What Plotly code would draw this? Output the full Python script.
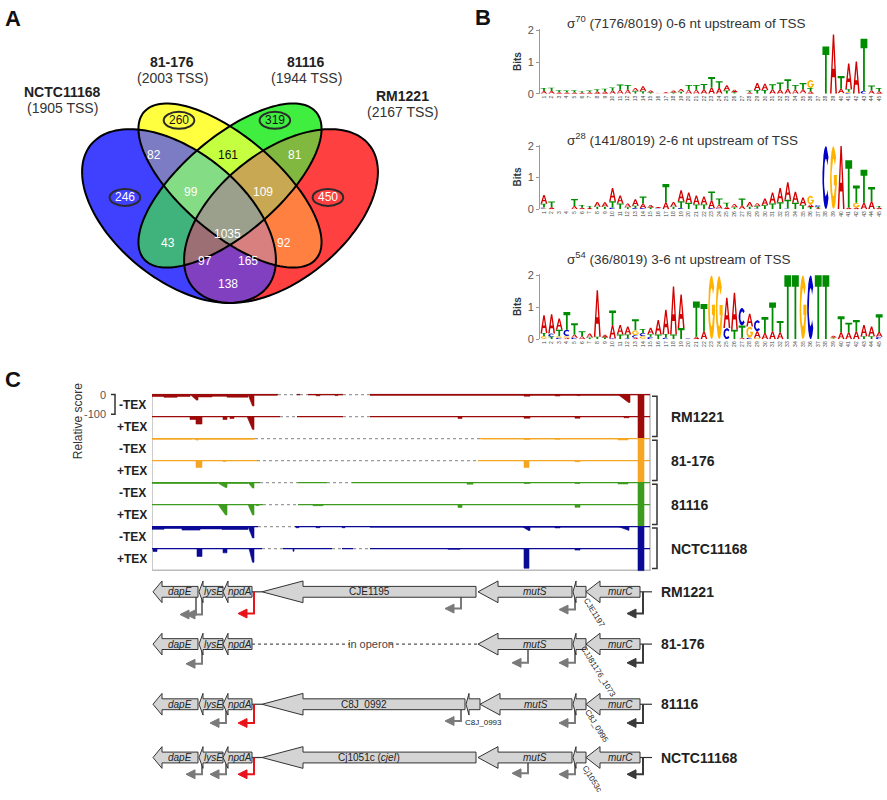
import numpy as np
import plotly.graph_objects as go

W, H = 887, 800

# ---------------- A: Venn diagram of TSS shared between the strains ----------------
strains = ['NCTC11168', '81-176', '81116', 'RM1221']
strain_tss = [1905, 2003, 1944, 2167]
# N = NCTC11168, Y = 81-176, G = 81116, R = RM1221
region_sets = ['N', 'Y', 'G', 'R', 'NY', 'YG', 'GR', 'NYG', 'YGR', 'NYGR', 'NG', 'YR', 'NGR', 'NYR', 'NR']
region_counts = [246, 260, 319, 450, 82, 161, 81, 99, 109, 1035, 43, 92, 97, 165, 138]

# ---------------- B: promoter motifs (bits per position) ----------------
logo_titles = ['σ<sup>70</sup> (7176/8019) 0-6 nt upstream of TSS',
               'σ<sup>28</sup> (141/8019) 2-6 nt upstream of TSS',
               'σ<sup>54</sup> (36/8019) 3-6 nt upstream of TSS']
positions = list(range(1, 46))

sig70_A = [.09, .09, .05, .05, .05, .04, .05, .07, .08, .10, .13, .13, .10, .16, .06, .02, .03, .06, .09, .13,
           .13, .14, .20, .18, .17, .08, .01, .05, .22, .20, .14, .14, .16, .13, .12, .08, .01, 0, 1.88, .14,
           .82, 1.02, 0, .10, .08]
sig70_C = [0] * 40 + [.03, 0, .09, 0, 0]
sig70_G = [0] * 34 + [.02, .26, 0, 0, 0, .02, .03, 0, 0, 0, 0]
sig70_T = [.09, .10, .06, .05, .06, .04, .05, .07, .08, .10, .16, .15, .08, .08, .04, .01, .02, .04, .06, .15,
           .15, .17, .33, .22, .10, .05, .01, .05, .12, .12, .16, .22, .30, .15, .20, .10, .01, 1.50, 0, .40,
           .08, 0, 1.65, .16, .10]

sig28_A = [.28, .06, .02, .015, .10, .05, .04, .15, .14, .42, .25, .12, .20, .15, .08, .03, .22, .15, .35, .33,
           .28, .25, .25, .12, .08, .10, .12, .15, .10, .22, .35, .45, .55, .35, .25, .08, .03, 0, 0, 2.0,
           .05, .05, .20, .25, .05]
sig28_C = [.03, 0, 0, 0, 0, 0, 0, 0, 0, .05, 0, 0, .03, .03, 0, .02, 0, 0, .03, 0,
           0, 0, .03, .02, 0, 0, 0, 0, .02, 0, 0, 0, .02, 0, 0, 0, .06, 2.0, 0, 0,
           0, 0, 0, 0, 0]
sig28_G = [.02] + [0] * 34 + [.28, 0, 0, 2.0, 0, 0, .15, 0, 0, 0]
sig28_T = [.12, .18, .02, .015, .22, .08, .06, .08, .08, .20, .18, .06, .08, .22, .05, .02, .58, .08, .22, .20,
           .15, .15, .28, .20, .12, .06, .22, .08, .07, .12, .18, .22, .28, .20, .12, .07, .04, 0, 0, 0,
           1.50, .55, 1.05, .45, .05]

sig54_A = [.55, .60, .35, .05, .10, .10, .12, 1.45, .08, .42, .30, .25, .05, .02, .20, .45, .75, 1.50, 1.05, .02,
           .08, .25, 0, 0, .95, 1.15, .05, .40, .20, .20, .25, .22, 0, 0, 0, 0, 0, 0, .05, .22,
           .22, .25, .35, .30, .15]
sig54_C = [.02, .10, .05, .20, .05, 0, 0, 0, 0, .03, 0, .03, .08, .10, .08, 0, .05, 0, 0, .02,
           0, 0, 0, 0, .35, 0, .55, .05, .35, 0, 0, 0, 0, 0, 0, 2.0, 0, 0, 0, 0,
           0, 0, 0, 0, .08]
sig54_G = [.08, 0, .05, .05, 0, 0, 0, 0, 0, 0, 0, 0, .15, .08, 0, 0, 0, 0, 0, 0,
           0, 0, 2.0, 1.98, 0, 0, 0, .35, .05, 0, 0, 0, 0, 0, 2.0, 0, 0, 0, .03, 0,
           0, 0, 0, 0, 0]
sig54_T = [.10, .08, .20, .55, .35, .15, .06, .08, .06, .45, .15, .12, .35, .12, .08, .15, .12, .15, .35, 0,
           1.10, .85, 0, 0, 0, .30, .38, 0, 0, .50, .90, .35, 2.0, 2.0, 0, 0, 2.0, 2.0, .03, .50,
           .30, .35, .10, .10, .55]

# ---------------- C: relative read score (start, end, depth, shape) ----------------
track_names = ['-TEX', '+TEX'] * 4
cov_RM_minus = [(0, 12, 10, 'r'), (12, 25, 14, 'r'), (25, 38, 10, 'r'), (38, 46, 28, 'v'), (46, 60, 12, 'r'),
                (60, 75, 9, 'r'), (75, 96, 13, 'r'), (96, 102, 58, 'v'), (102, 125, 3, 'r'), (164, 168, 6, 'r'),
                (183, 186, 5, 'r'), (218, 470, 4, 'r'), (372, 378, 8, 'r'), (403, 408, 7, 'r'), (425, 428, 5, 'r'),
                (466, 478, 40, 'v'), (486, 492, 112, 'r')]
cov_RM_plus = [(38, 44, 15, 'r'), (44, 50, 38, 'r'), (71, 75, 15, 'r'), (78, 82, 10, 'r'), (95, 102, 65, 'v'),
               (306, 310, 10, 'r'), (372, 378, 8, 'r'), (423, 428, 8, 'r'), (472, 477, 6, 'r'), (486, 492, 112, 'r')]
cov_81176_minus = [(0, 40, 4, 'r'), (40, 46, 9, 'v'), (46, 102, 4, 'r'), (330, 470, 2, 'r'), (372, 378, 5, 'r'),
                   (403, 408, 4, 'r'), (466, 476, 7, 'r'), (486, 492, 112, 'r')]
cov_81176_plus = [(44, 50, 35, 'r'), (71, 74, 5, 'r'), (372, 377, 35, 'r'), (423, 428, 6, 'r'), (486, 492, 112, 'r')]
cov_81116_minus = [(0, 65, 5, 'r'), (65, 75, 25, 'v'), (75, 96, 5, 'r'), (96, 102, 28, 'v'), (315, 321, 8, 'r'),
                   (372, 378, 5, 'r'), (423, 428, 5, 'r'), (466, 476, 7, 'r'), (486, 492, 112, 'r')]
cov_81116_plus = [(66, 75, 53, 'v'), (96, 102, 53, 'v'), (104, 107, 5, 'r'), (161, 171, 6, 'r'), (306, 310, 15, 'r'),
                  (423, 428, 14, 'r'), (486, 492, 112, 'r')]
cov_NCTC_minus = [(0, 12, 14, 'r'), (12, 30, 10, 'r'), (30, 48, 18, 'r'), (48, 70, 12, 'r'), (70, 96, 15, 'r'),
                  (96, 102, 58, 'v'), (144, 147, 6, 'r'), (164, 168, 6, 'r'), (190, 193, 6, 'r'), (218, 470, 3, 'r'),
                  (370, 378, 20, 'v'), (403, 408, 7, 'r'), (466, 477, 20, 'v'), (486, 492, 112, 'r')]
cov_NCTC_plus = [(1, 5, 15, 'r'), (45, 50, 40, 'r'), (71, 75, 22, 'r'), (97, 102, 70, 'v'), (141, 142, 14, 'r'),
                 (296, 308, 4, 'r'), (372, 377, 100, 'r'), (423, 428, 8, 'r'), (486, 492, 112, 'r')]
gaps_RM_minus = [(126, 145), (148, 156), (191, 218)]
gaps_RM_plus = [(128, 145), (191, 218)]
gaps_81176_minus = [(103, 328)]
gaps_81176_plus = [(105, 326)]
gaps_81116_minus = [(108, 146), (175, 200)]
gaps_81116_plus = [(111, 146)]
gaps_NCTC_minus = [(106, 143)]
gaps_NCTC_plus = [(110, 131), (180, 190), (201, 218)]

# ---------------- C: gene organisation (genomic units shared with tracks) ----------------
genes_RM1221 = [('dapE', 1, 46), ('lysE', 47, 71), ('npdA', 71, 100), ('CJE1195', 110, 324),
                ('mutS', 326, 420), ('CJE1197', 421, 434), ('murC', 434, 488)]
genes_81176 = [('dapE', 1, 46), ('lysE', 47, 71), ('npdA', 71, 100),
               ('mutS', 326, 420), ('CJJ81176_1073', 421, 434), ('murC', 434, 488)]
genes_81116 = [('dapE', 1, 46), ('lysE', 47, 71), ('npdA', 71, 100), ('C8J_0992', 110, 313), ('C8J_0993', 314, 328),
               ('mutS', 328, 420), ('C8J_0995', 421, 434), ('murC', 434, 488)]
genes_NCTC11168 = [('dapE', 1, 46), ('lysE', 47, 71), ('npdA', 71, 100), ('Cj1051c (<i>cjeI</i>)', 110, 324),
                   ('mutS', 326, 420), ('Cj1053c', 421, 434), ('murC', 434, 488)]
tss_RM1221 = [(44, 'g'), (50, 'g'), (102, 'r'), (309, 'g'), (423, 'g'), (491, 'd')]
tss_81176 = [(50, 'g'), (376, 'g'), (423, 'g'), (491, 'd')]
tss_81116 = [(74, 'g'), (102, 'r'), (309, 'g'), (423, 'g'), (491, 'd')]
tss_NCTC11168 = [(50, 'g'), (74, 'g'), (102, 'r'), (376, 'g'), (423, 'g'), (491, 'd')]

# ---------------- layout / style ----------------
FONT = 'Arial, Liberation Sans, sans-serif'
NARROW = 'Liberation Sans Narrow, Arial Narrow, Liberation Sans, Arial, sans-serif'


def px(x):
    return x / W


def py(y):
    return 1 - y / H


fig = go.Figure()
shapes = []
anns = []


def ann(text, x, y, xref='paper', yref='paper', size=12, color='#222', xanchor='center',
        yanchor='middle', angle=0, family=FONT):
    anns.append(dict(text=text, x=x, y=y, xref=xref, yref=yref, showarrow=False, xanchor=xanchor,
                     yanchor=yanchor, textangle=angle, font=dict(size=size, color=color, family=family)))


# ---- Venn ----
ellipses = [(0.35, 0.47, 0.35, 0.20, -45), (0.50, 0.57, 0.35, 0.15, -45),
            (0.50, 0.57, 0.35, 0.15, 45), (0.65, 0.47, 0.35, 0.20, 45)]
bits = {'N': 1, 'Y': 2, 'G': 4, 'R': 8}
region_colors = ['#4040ff', '#ffff40', '#40ee40', '#ff4040', '#7c7cc4', '#c4ff40', '#80b840', '#84dc84',
                 '#c8a852', '#9aa08c', '#40b27c', '#ff8040', '#9c6f74', '#d88080', '#8040c0']
region_pos = [(0.191, 0.531), (0.35, 0.784), (0.632, 0.784), (0.788, 0.531), (0.276, 0.671), (0.494, 0.671),
              (0.691, 0.671), (0.385, 0.548), (0.597, 0.548), (0.494, 0.412), (0.318, 0.383), (0.659, 0.383),
              (0.426, 0.324), (0.553, 0.324), (0.494, 0.247)]
dark_text = {'Y', 'G', 'YG'}

gx = np.linspace(0.04, 0.96, 369)
gy = np.linspace(0.16, 0.87, 285)
XX, YY = np.meshgrid(gx, gy)
mask = np.zeros(XX.shape, dtype=int)
for bit, (cx, cy, a, b, ang) in enumerate(ellipses):
    t = np.radians(ang)
    dx, dy = XX - cx, YY - cy
    u = dx * np.cos(t) + dy * np.sin(t)
    v = -dx * np.sin(t) + dy * np.cos(t)
    mask |= ((u / a) ** 2 + (v / b) ** 2 <= 1).astype(int) << bit
zmask = np.where(mask > 0, mask + 0.5, np.nan)
color_by_mask = ['#ffffff'] * 16
for key, col in zip(region_sets, region_colors):
    color_by_mask[sum(bits[c] for c in key)] = col
cscale = []
for k, col in enumerate(color_by_mask):
    cscale += [[k / 16, col], [(k + 1) / 16, col]]
fig.add_trace(go.Heatmap(x=gx, y=gy, z=zmask, colorscale=cscale, zmin=0, zmax=16, showscale=False,
                         hoverinfo='skip', xaxis='x', yaxis='y'))

th = np.linspace(0, 2 * np.pi, 140)
for cx, cy, a, b, ang in ellipses:
    t = np.radians(ang)
    ex = cx + a * np.cos(th) * np.cos(t) - b * np.sin(th) * np.sin(t)
    ey = cy + a * np.cos(th) * np.sin(t) + b * np.sin(th) * np.cos(t)
    path = 'M ' + ' L '.join(f'{x:.4f},{y:.4f}' for x, y in zip(ex, ey)) + ' Z'
    shapes.append(dict(type='path', xref='x', yref='y', path=path, line=dict(color='black', width=2)))

for key, n, (x, y) in zip(region_sets, region_counts, region_pos):
    ann(str(n), x, y, 'x', 'y', size=12, color='#111' if key in dark_text else 'white')
    if len(key) == 1:
        shapes.append(dict(type='circle', xref='x', yref='y', x0=x - 0.045, x1=x + 0.045, y0=y - 0.028,
                           y1=y + 0.028, line=dict(color='#2a2a2a', width=2)))

strain_pos = [(62, 88), (172, 58), (306, 58), (402, 92)]
for name, n, (x, y) in zip(strains, strain_tss, strain_pos):
    ann(f'<b>{name}</b>', px(x), py(y), size=14, color='#222')
    ann(f'({n} TSS)', px(x), py(y + 16), size=14, color='#333')

# ---- sequence logos ----
NUC_COLORS = {'A': '#d40000', 'C': '#0000c8', 'G': '#ffb300', 'T': '#008c00'}


def arc(r1, r2, a0, a1, n=16):
    return [(0.5 + r1 * np.cos(np.radians(a)), 0.5 + r2 * np.sin(np.radians(a))) for a in np.linspace(a0, a1, n)]


def glyph(n):
    if n == 'T':
        return [[(0, 1), (1, 1), (1, .82), (.63, .82), (.63, 0), (.37, 0), (.37, .82), (0, .82)]]
    if n == 'A':
        return [[(0, 0), (.22, 0), (.32, .28), (.68, .28), (.78, 0), (1, 0), (.6, 1), (.4, 1), (0, 0),
                 (.37, .42), (.5, .78), (.63, .42), (.37, .42)]]
    if n == 'C':
        return [arc(.5, .5, 40, 320) + arc(.27, .3, 320, 40)]
    return [arc(.5, .5, 40, 350) + arc(.27, .3, 350, 40),
            [(.55, .38), (1, .38), (1, .54), (.55, .54)]]


logos = [dict(A=sig70_A, C=sig70_C, G=sig70_G, T=sig70_T),
         dict(A=sig28_A, C=sig28_C, G=sig28_G, T=sig28_T),
         dict(A=sig54_A, C=sig54_C, G=sig54_G, T=sig54_T)]
logo_px = [(90, 26, 17), (207, 143, 136), (339, 274, 257)]  # y of 0 bits, y of 2 bits, title y

for i, (logo, (y0p, y2p, typ)) in enumerate(zip(logos, logo_px)):
    ax = i + 2
    xs = {n: [] for n in 'ACGT'}
    ys = {n: [] for n in 'ACGT'}
    for j, pos in enumerate(positions):
        stack = sorted(((logo[n][j], n) for n in 'ACGT'), key=lambda s: s[0])
        base = 0
        for h, n in stack:
            if h >= 0.015:
                for poly in glyph(n):
                    for u, v in poly:
                        xs[n].append(pos - 0.45 + 0.9 * u)
                        ys[n].append(base + h * v)
                    xs[n].append(None)
                    ys[n].append(None)
            base += h
    for n in 'ACGT':
        fig.add_trace(go.Scatter(x=xs[n], y=ys[n], mode='lines', fill='toself', fillcolor=NUC_COLORS[n],
                                 line=dict(width=0, color=NUC_COLORS[n]), hoverinfo='skip',
                                 xaxis=f'x{ax}', yaxis=f'y{ax}'))
    scale = (y0p - y2p) / 2
    fig.update_layout({
        f'xaxis{ax}': dict(domain=[px(540), px(883)], range=[0.475, 45.5], anchor=f'y{ax}',
                           tickvals=positions, ticktext=[str(p) for p in positions], tickangle=-90,
                           tickfont=dict(size=5, color='#444', family=FONT), ticks='', showgrid=False,
                           zeroline=False, showline=False),
        f'yaxis{ax}': dict(domain=[py(y0p), py(y0p - 2.04 * scale)], range=[0, 2.04], anchor=f'x{ax}',
                           tickvals=[0, 1, 2], showline=True, linecolor='#999', ticks='outside', ticklen=3,
                           tickcolor='#999', tickfont=dict(size=11, color='#555', family=FONT),
                           title=dict(text='<b>Bits</b>', font=dict(size=10, color='#333', family=FONT),
                                      standoff=4),
                           showgrid=False, zeroline=False)})
    ann(logo_titles[i], px(565), py(typ), size=13.5, color='#333', xanchor='left')

# ---- coverage tracks ----
STEP = 111.5
cov_tracks = [cov_RM_minus, cov_RM_plus, cov_81176_minus, cov_81176_plus,
              cov_81116_minus, cov_81116_plus, cov_NCTC_minus, cov_NCTC_plus]
cov_gaps = [gaps_RM_minus, gaps_RM_plus, gaps_81176_minus, gaps_81176_plus,
            gaps_81116_minus, gaps_81116_plus, gaps_NCTC_minus, gaps_NCTC_plus]
strain_colors = ['#9c0a0a', '#f5a623', '#3d9b1d', '#0a0a96']
track_strains = ['RM1221', '81-176', '81116', 'NCTC11168']

shapes.append(dict(type='rect', xref='x5', yref='y5', x0=0, x1=498, y0=-890, y1=0, layer='below',
                   line=dict(color='#bbbbbb', width=1.5)))
for k, (peaks, gaps) in enumerate(zip(cov_tracks, cov_gaps)):
    col = strain_colors[k // 2]
    base = -k * STEP
    fig.add_trace(go.Scatter(x=[0, 498], y=[base, base], mode='lines', line=dict(color=col, width=1.2),
                             hoverinfo='skip', xaxis='x5', yaxis='y5'))
    xs, ys = [], []
    for x0, x1, d, kind in peaks:
        pts = [(x0, 0), (x0, d), (x1, d), (x1, 0)] if kind == 'r' else [(x0, 0), (x1 - 1.5, d), (x1, d), (x1, 0)]
        for u, v in pts:
            xs.append(u)
            ys.append(base - v)
        xs.append(None)
        ys.append(None)
    fig.add_trace(go.Scatter(x=xs, y=ys, mode='lines', fill='toself', fillcolor=col,
                             line=dict(color=col, width=0.6), hoverinfo='skip', xaxis='x5', yaxis='y5'))
    for g0, g1 in gaps:
        fig.add_trace(go.Scatter(x=[g0, g1], y=[base, base], mode='lines', line=dict(color='white', width=3),
                                 hoverinfo='skip', xaxis='x5', yaxis='y5'))
        fig.add_trace(go.Scatter(x=[g0, g1], y=[base, base], mode='lines',
                                 line=dict(color='#9a9a9a', width=1.2, dash='dot'),
                                 hoverinfo='skip', xaxis='x5', yaxis='y5'))
    ann(f'<b>{track_names[k]}</b>', px(132), base - 53, yref='y5', size=12, color='#222')

for s, name in enumerate(track_strains):
    top, bot = -2 * s * STEP - 8, -2 * (s + 1) * STEP + 10
    shapes.append(dict(type='path', xref='paper', yref='y5',
                       path=f'M {px(652)},{top} L {px(657)},{top} L {px(657)},{bot} L {px(652)},{bot}',
                       line=dict(color='#333', width=1.5)))
    ann(f'<b>{name}</b>', px(669), -(2 * s + 1) * STEP, yref='y5', size=14, color='#222', xanchor='left')

shapes.append(dict(type='path', xref='paper', yref='y5',
                   path=f'M {px(111)},0 L {px(115)},0 L {px(115)},-100 L {px(111)},-100',
                   line=dict(color='#333', width=1.5)))
ann('0', px(108), 0, yref='y5', size=11, color='#555', xanchor='right')
ann('-100', px(108), -100, yref='y5', size=11, color='#555', xanchor='right')
ann('Relative score', px(78), -135, yref='y5', size=12, color='#333', angle=-90)

# ---- gene maps ----
gene_rows = [genes_RM1221, genes_81176, genes_81116, genes_NCTC11168]
tss_rows = [tss_RM1221, tss_81176, tss_81116, tss_NCTC11168]
tss_drops = [[23, 23, 22, 17, 18, 22], [20, 19, 19, 19], [19, 19, 17, 19, 19], [17, 17, 17, 16, 17, 17]]
row_y = [205, 152, 91, 37]
row_lines = [[(100, 110), (488, 500)], [(488, 500)], [(100, 110), (488, 500)], [(100, 110), (488, 500)]]
head_len = {'dapE': 9, 'lysE': 4, 'npdA': 5, 'mutS': 20, 'murC': 14}
italic = set(head_len)
tss_colors = {'g': '#7a7a7a', 'r': '#e8141c', 'd': '#3a3a3a'}
small_labels = [('CJE1197', 442, 184, 58), ('CJJ81176_1073', 446, 124, 58), ('C8J_0993', 331, 72, 0),
                ('C8J_0995', 444, 69, 58), ('Cj1053c', 440, 16, 58)]

for r, (genes, tss, drops, yc) in enumerate(zip(gene_rows, tss_rows, tss_drops, row_y)):
    for a0, a1 in row_lines[r]:
        shapes.append(dict(type='line', xref='x6', yref='y6', x0=a0, x1=a1, y0=yc, y1=yc,
                           line=dict(color='#333', width=1.2)))
    for (xv, kind), d in zip(tss, drops):
        col = tss_colors[kind]
        yb = yc - d
        shapes.append(dict(type='path', xref='x6', yref='y6', path=f'M {xv},{yc} L {xv},{yb} L {xv - 8},{yb}',
                           line=dict(color=col, width=2)))
        shapes.append(dict(type='path', xref='x6', yref='y6', fillcolor=col, line=dict(color=col, width=1),
                           path=f'M {xv - 7},{yb + 4.5} L {xv - 16},{yb} L {xv - 7},{yb - 4.5} Z'))
    for name, s, e in genes:
        L = e - s
        h = head_len.get(name, 41 if L > 100 else 3)
        shapes.append(dict(type='path', xref='x6', yref='y6', fillcolor='#d4d4d4', line=dict(color='#333', width=1),
                           path=(f'M {s},{yc} L {s + h},{yc + 11} L {s + h},{yc + 5.5} L {e},{yc + 5.5} '
                                 f'L {e},{yc - 5.5} L {s + h},{yc - 5.5} L {s + h},{yc - 11} Z')))
        if L > 20:
            xt = (s + e) / 2 if L > 100 else (s + h + e) / 2
            txt = f'<i>{name}</i>' if name in italic else name
            ann(txt, xt, yc, 'x6', 'y6', size=10, color='#222', family=NARROW)
    ann(f'<b>{track_strains[r]}</b>', 507, yc, 'x6', 'y6', size=14, color='#222', xanchor='left')

shapes.append(dict(type='line', xref='x6', yref='y6', x0=100, x1=198, y0=152, y1=152,
                   line=dict(color='#555', width=1.2, dash='dot')))
shapes.append(dict(type='line', xref='x6', yref='y6', x0=238, x1=326, y0=152, y1=152,
                   line=dict(color='#555', width=1.2, dash='dot')))
ann('in operon', 219, 152, 'x6', 'y6', size=11, color='#444')
for txt, x, y, ang in small_labels:
    ann(txt, x, y, 'x6', 'y6', size=8, color='#222', angle=ang, family=NARROW)

# ---- panel letters ----
ann('<b>A</b>', px(13), py(14), size=22, color='#111')
ann('<b>B</b>', px(483), py(13), size=22, color='#111')
ann('<b>C</b>', px(13), py(380), size=22, color='#111')

fig.update_layout(
    width=W, height=H, margin=dict(l=0, r=0, t=0, b=0), showlegend=False,
    paper_bgcolor='white', plot_bgcolor='rgba(0,0,0,0)', font=dict(family=FONT),
    xaxis=dict(domain=[px(60), px(400)], range=[0, 1], visible=False, anchor='y'),
    yaxis=dict(domain=[py(359.2), py(50.2)], range=[0, 1], visible=False, anchor='x'),
    xaxis5=dict(domain=[px(152), px(652)], range=[0, 500], visible=False, anchor='y5'),
    yaxis5=dict(domain=[py(575), py(380)], range=[-900, 75], visible=False, anchor='x5'),
    xaxis6=dict(domain=[px(140), px(700)], range=[-12, 548], visible=False, anchor='y6'),
    yaxis6=dict(domain=[0, py(575)], range=[0, 225], visible=False, anchor='x6'),
    shapes=shapes, annotations=anns,
)

# browser default body margin would shift the figure by 8px
fig.write_html('out.html', config={'displayModeBar': False},
               post_script="document.body.style.margin='0px';")
